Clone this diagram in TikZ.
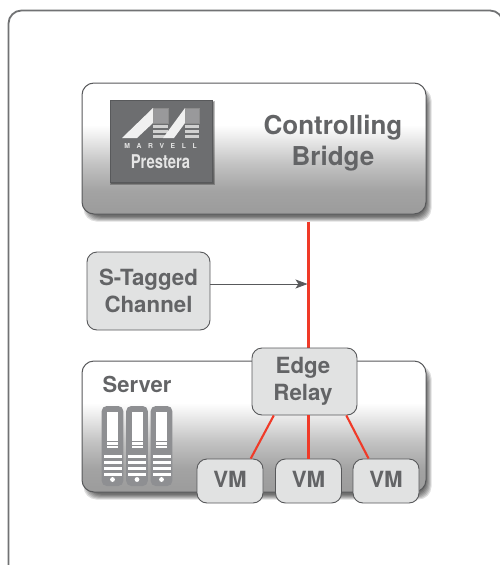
\documentclass[tikz,border=0pt]{standalone}
\usepackage{fontspec}
\setmainfont{TeX Gyre Heros}
\usetikzlibrary{arrows.meta,calc}
\definecolor{txt}{HTML}{636466}
\definecolor{edgec}{HTML}{58595B}
\definecolor{boxfill}{HTML}{E1E2E2}
\definecolor{redl}{HTML}{F03A28}
\definecolor{logo}{HTML}{6D6E70}
\definecolor{srv}{HTML}{8E8F92}
\pgfdeclarelayer{under}
\pgfdeclarelayer{shadowl}
\pgfsetlayers{under,shadowl,main}
\pgfdeclareverticalshading{panelshade}{100bp}{
  color(0bp)=(black!39);
  color(25bp)=(black!39);
  color(34bp)=(black!36);
  color(44bp)=(black!24);
  color(52bp)=(black!11);
  color(59bp)=(white);
  color(100bp)=(white)}
\tikzset{
  x=1pt,y=-1pt,
  panel/.style={draw=edgec,line width=1pt,rounded corners=12pt,shading=panelshade,minimum width=344pt,minimum height=131pt,inner sep=0pt},
  softbox/.style={draw=edgec,line width=0.9pt,rounded corners=10pt,fill=boxfill,text=txt,font=\bfseries\fontsize{22.3}{27}\selectfont,align=center,inner sep=0pt},
  redline/.style={draw=redl,line width=2.1pt},
  title/.style={text=txt,font=\bfseries\fontsize{26}{31}\selectfont,align=center,inner sep=0pt},
  softshadow/.style={black,opacity=0.13,rounded corners=13pt},
}
\begin{document}
\begin{tikzpicture}
\useasboundingbox (0,0) rectangle (499,565);
\begin{pgfonlayer}{under}
\fill[white] (0,0) rectangle (499,565);
\draw[edgec!85,line width=1.8pt,rounded corners=13pt] (8.5,575) -- (8.5,10.5) -- (503,10.5) -- (503,575);
\end{pgfonlayer}
\node[panel] (bridge) at (254,148.5) {};
\node[panel] (server) at (254,426.5) {};
% logo
\foreach \d in {0,1,2}{\fill[black,opacity=0.25] (110+\d,101+\d) rectangle (215-\d,185-\d);}
\node[fill=logo,draw=edgec,line width=0.5pt,minimum width=102pt,minimum height=82pt,inner sep=0pt] (logo) at (161,141) {};
\draw[black!45,fill=logo!70!white,line width=.5pt] (153,108) rectangle (168,123);
\draw[black!45,fill=logo!70!white,line width=.5pt] (185,108) rectangle (199,123);
\foreach \yy in {125,130,135}{
  \fill[white!82!black] (153,\yy) rectangle (168,\yy+2.8);
  \fill[white!82!black] (185,\yy) rectangle (199,\yy+2.8);
}
\fill[white!94!black] (122,138) -- (153,108) -- (153,123) -- (137,138) -- cycle;
\fill[white!94!black] (163,138) -- (185,108) -- (185,123) -- (174,138) -- cycle;
\node[text=white!90!black,inner sep=0pt,font=\bfseries\fontsize{6.8}{7}\selectfont] (marvell) at (160.5,146) {M\hspace{6.6pt}A\hspace{6.6pt}R\hspace{6.6pt}V\hspace{6.6pt}E\hspace{6.6pt}L\hspace{6.6pt}L};
\node[text=white!90!black,inner sep=0pt,font=\fontsize{19}{21}\selectfont\bfseries] (prestera) at (160.5,162) {\scalebox{.78}[1]{Prestera}};
\node[title] (ctitle) at (333,143.5) {Controlling\\Bridge};
% server
\node[title,font=\bfseries\fontsize{22}{26}\selectfont] (stitle) at (137,384.5) {Server};
\foreach \xx in {112.5,137,161.5}{
  \fill[srv,rounded corners=5pt] (\xx-10.8,406) rectangle (\xx+10.8,486);
  \fill[white] (\xx-5.5,412) rectangle (\xx+5.5,449);
  \foreach \yy in {441,444.5,448}{\fill[srv] (\xx-5.5,\yy) rectangle (\xx+5.5,\yy+1.3);}
  \foreach \yy in {454.5,460.5,466.5,472.5}{\fill[white] (\xx-9,\yy) rectangle (\xx+9,\yy+3);}
  \fill[white] (\xx,479.5) circle (2.4);
}
% boxes
\node[softbox,minimum width=123pt,minimum height=78pt] (stag) at (148.5,291) {S-Tagged\\Channel};
\node[softbox,minimum width=105pt,minimum height=67pt] (edge) at (304.5,381.5) {Edge\hspace*{3pt}\\Relay\hspace*{3pt}};
\node[softbox,minimum width=66pt,minimum height=44pt] (vma) at (230,481) {\raisebox{2.5pt}{VM}};
\node[softbox,minimum width=66pt,minimum height=44pt] (vmb) at (308.5,481) {\raisebox{2.5pt}{VM}};
\node[softbox,minimum width=66pt,minimum height=44pt] (vmc) at (386,481) {\raisebox{2.5pt}{VM}};
% shadows and red trunk under the panels
\begin{pgfonlayer}{under}
\draw[redline] ($(vmb.north |- bridge.south)+(0,7)$) -- (vmb.north |- edge.north);
\end{pgfonlayer}
\begin{pgfonlayer}{shadowl}
\foreach \d in {0,1,2,3,4,5}{
  \fill[softshadow] ($(bridge.north west)+(2+\d,5+\d)$) rectangle ($(bridge.south east)+(5-\d,7-\d)$);
  \fill[softshadow] ($(server.north west)+(2+\d,5+\d)$) rectangle ($(server.south east)+(5-\d,7-\d)$);
}
\end{pgfonlayer}
% connectors
\draw[redline] ($(edge.south west)!.21!(edge.south east)$) -- ($(vma.north west)!.81!(vma.north east)$);
\draw[redline] (vmb.north |- edge.south) -- (vmb.north);
\draw[redline] ($(edge.south west)!.895!(edge.south east)$) -- ($(vmc.north west)!.24!(vmc.north east)$);
\coordinate (arrowstart) at ($(stag.east)+(0,-7)$);
\draw[edgec,line width=.8pt,-{Stealth[length=12pt,width=9pt,inset=3pt]}] (arrowstart) -- ($(vmb.north |- arrowstart)+(-1,0)$);
\end{tikzpicture}
\end{document}
